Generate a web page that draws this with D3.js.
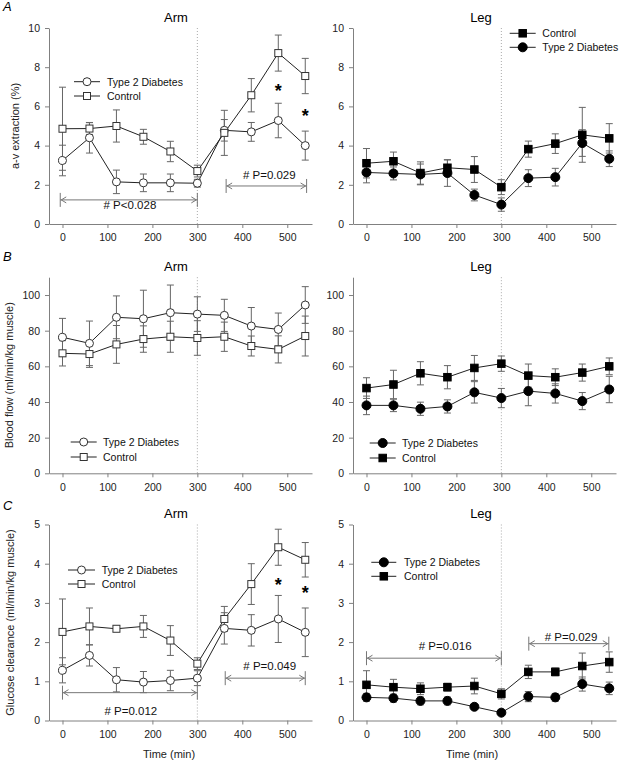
<!DOCTYPE html>
<html><head><meta charset="utf-8">
<script src="https://cdn.jsdelivr.net/npm/d3@7"></script>
<style>
body{margin:0;background:#fff}
svg{display:block}
text{font-family:"Liberation Sans",Arial,Helvetica,sans-serif}
</style>
</head><body>
<svg id="chart" width="626" height="764"></svg>
<script>
// ---------- data ----------
const times = [0,60,120,180,240,300,360,420,480,540];
const xTicks = [0,100,200,300,400,500];
const avTicks = [0,2,4,6,8,10];
const bfTicks = [0,20,40,60,80,100];
const gcTicks = [0,1,2,3,4,5];

const avArmT2D    = [3.24,4.40,2.15,2.10,2.10,2.08,4.78,4.70,5.28,4.00];
const avArmT2DErr = [0.78,0.78,0.60,0.45,0.45,0.20,0.55,0.48,0.88,0.74];
const avArmCtrl    = [4.86,4.87,5.00,4.45,3.70,2.70,4.65,6.57,8.72,7.55];
const avArmCtrlErr = [2.12,0.30,0.82,0.38,0.52,0.30,1.15,0.85,0.92,0.90];

const avLegCtrl    = [3.10,3.20,2.60,2.87,2.78,1.88,3.82,4.10,4.55,4.37];
const avLegCtrlErr = [0.75,0.47,0.57,0.40,0.66,0.38,0.41,0.50,1.40,0.75];
const avLegT2D    = [2.63,2.58,2.53,2.60,1.48,0.99,2.34,2.39,4.13,3.33];
const avLegT2DErr = [0.53,0.33,0.53,0.68,0.30,0.34,0.43,0.45,0.68,0.40];

const bfArmT2D    = [76.3,72.9,87.5,86.7,90.1,89.3,88.6,82.6,80.7,94.4];
const bfArmT2DErr = [10.6,12.5,12.0,16.0,15.5,9.7,9.0,10.4,9.2,10.3];
const bfArmCtrl    = [67.3,66.9,72.3,75.3,76.6,75.9,76.6,71.4,69.5,77.0];
const bfArmCtrlErr = [7.1,7.5,10.6,7.4,8.7,9.7,8.2,5.6,7.6,11.2];

const bfLegCtrl    = [47.8,49.8,56.1,53.9,59.1,61.5,54.8,53.9,56.5,60.0];
const bfLegCtrlErr = [5.8,8.0,6.5,6.5,7.0,4.3,6.5,4.7,4.8,4.7];
const bfLegT2D    = [38.1,38.1,36.2,37.5,45.4,42.2,46.1,44.8,40.5,47.0];
const bfLegT2DErr = [5.2,3.5,3.7,3.7,6.0,5.4,8.2,5.4,4.8,7.4];

const gcArmCtrl    = [2.26,2.40,2.34,2.40,2.04,1.45,2.59,3.48,4.42,4.10];
const gcArmCtrlErr = [0.84,0.47,0.07,0.28,0.38,0.15,0.32,0.52,0.46,0.44];
const gcArmT2D    = [1.28,1.66,1.04,0.98,1.02,1.08,2.35,2.30,2.59,2.25];
const gcArmT2DErr = [0.32,0.27,0.31,0.27,0.26,0.19,0.40,0.40,0.60,0.62];

const gcLegCtrl    = [0.91,0.85,0.81,0.85,0.88,0.68,1.24,1.24,1.39,1.49];
const gcLegCtrlErr = [0.36,0.20,0.15,0.10,0.20,0.13,0.17,0.10,0.33,0.26];
const gcLegT2D    = [0.59,0.57,0.50,0.50,0.35,0.20,0.61,0.59,0.93,0.82];
const gcLegT2DErr = [0.10,0.10,0.10,0.10,0.03,0.03,0.13,0.10,0.18,0.16];

const seriesNames = ["Type 2 Diabetes","Control"];

// ---------- layout ----------
const svg = d3.select("#chart");
const AXC = "#808080";

const panels = [
  {x0:49, yb:224, yt:28, ymax:10, ticks:avTicks, title:"Arm", tx:176, ty:21.5, letter:"A", ly:11,
   ylabel:"a-v extraction (%)", ylx:15, open:true,
   series:[{v:avArmT2D,e:avArmT2DErr,sym:"circle"},{v:avArmCtrl,e:avArmCtrlErr,sym:"square"}],
   legend:{l0:74,l1:100,tx:107,rows:[[0,81.7],[1,96]]},
   arrows:[{t0:-5,t1:300,v:1.23,label:"# P<0.028",lt:150,lv:0.97},{t0:364,t1:543,v:1.94,label:"# P=0.029",lt:460,lv:2.5}],
   stars:[[480,7.0],[540,5.7]]},
  {x0:353, yb:224, yt:28, ymax:10, ticks:avTicks, title:"Leg", tx:481, ty:21.5,
   open:false,
   series:[{v:avLegT2D,e:avLegT2DErr,sym:"circle"},{v:avLegCtrl,e:avLegCtrlErr,sym:"square"}],
   legend:{l0:509.7,l1:535.7,tx:542.3,rows:[[1,33.3],[0,47.3]]},
   arrows:[], stars:[]},
  {x0:49, yb:473.3, yt:277.2, ymax:110, ticks:bfTicks, title:"Arm", tx:176, ty:271, letter:"B", ly:261,
   ylabel:"Blood flow (ml/min/kg muscle)", ylx:9, open:true,
   series:[{v:bfArmT2D,e:bfArmT2DErr,sym:"circle"},{v:bfArmCtrl,e:bfArmCtrlErr,sym:"square"}],
   legend:{l0:70.7,l1:96.7,tx:103,rows:[[0,442],[1,457]]},
   arrows:[], stars:[]},
  {x0:353, yb:473.3, yt:277.2, ymax:110, ticks:bfTicks, title:"Leg", tx:481, ty:271,
   open:false,
   series:[{v:bfLegT2D,e:bfLegT2DErr,sym:"circle"},{v:bfLegCtrl,e:bfLegCtrlErr,sym:"square"}],
   legend:{l0:369.7,l1:395.7,tx:402,rows:[[0,443],[1,458]]},
   arrows:[], stars:[]},
  {x0:49, yb:720.5, yt:524.5, ymax:5, ticks:gcTicks, title:"Arm", tx:176, ty:518, letter:"C", ly:510,
   ylabel:"Glucose clearance (ml/min/kg muscle)", ylx:10, open:true, xlabel:"Time (min)", xlx:169,
   series:[{v:gcArmT2D,e:gcArmT2DErr,sym:"circle"},{v:gcArmCtrl,e:gcArmCtrlErr,sym:"square"}],
   legend:{l0:68,l1:95,tx:101.7,rows:[[0,570],[1,584]]},
   arrows:[{t0:0,t1:300,v:0.71,label:"# P=0.012",lt:152,lv:0.255},{t0:362,t1:540,v:1.08,label:"# P=0.049",lt:461,lv:1.38}],
   stars:[[480,3.57],[540,3.35]]},
  {x0:353, yb:720.5, yt:524.5, ymax:5, ticks:gcTicks, title:"Leg", tx:481, ty:518,
   open:false, xlabel:"Time (min)", xlx:472,
   series:[{v:gcLegT2D,e:gcLegT2DErr,sym:"circle"},{v:gcLegCtrl,e:gcLegCtrlErr,sym:"square"}],
   legend:{l0:371.3,l1:396.3,tx:404,rows:[[0,562.3],[1,576.3]]},
   arrows:[{t0:0,t1:300,v:1.59,label:"# P=0.016",lt:175,lv:1.89},{t0:361,t1:539,v:1.96,label:"# P=0.029",lt:455,lv:2.14}],
   stars:[]}
];

function drawSymbol(g, sym, cx, cy, open){
  if(sym==="circle"){
    g.append("circle").attr("cx",cx).attr("cy",cy).attr("r", open?4:4.5)
      .attr("fill", open?"#fff":"#000").attr("stroke", open?"#333":"#000").attr("stroke-width",1);
  } else {
    const s = open?7:7.5;
    g.append("rect").attr("x",cx-s/2).attr("y",cy-s/2).attr("width",s).attr("height",s)
      .attr("fill", open?"#fff":"#000").attr("stroke", open?"#333":"#000").attr("stroke-width",1);
  }
}

panels.forEach(p=>{
  const g = svg.append("g");
  const x = d3.scaleLinear().domain([-30,555]).range([p.x0, p.x0+263]);
  const y = d3.scaleLinear().domain([0,p.ymax]).range([p.yb, p.yt]);

  // axes
  const ya = g.append("g").attr("transform",`translate(${p.x0},0)`)
    .call(d3.axisLeft(y).tickValues(p.ticks).tickFormat(d3.format("d")).tickSize(4).tickSizeOuter(0).tickPadding(5));
  const xa = g.append("g").attr("transform",`translate(0,${p.yb})`)
    .call(d3.axisBottom(x).tickValues(xTicks).tickFormat(d3.format("d")).tickSize(4).tickSizeOuter(0).tickPadding(6));
  [ya,xa].forEach(a=>{
    a.select(".domain").attr("stroke",AXC).attr("stroke-width",1);
    a.selectAll(".tick line").attr("stroke",AXC);
    a.selectAll(".tick text").attr("fill","#222").style("font-size","10.5px")
      .style("font-family",'"Liberation Sans",Arial,sans-serif');
  });

  // dotted line at 300
  g.append("line").attr("x1",x(300)).attr("x2",x(300)).attr("y1",y(p.ymax)).attr("y2",p.yb)
    .attr("stroke","#aaa").attr("stroke-width",1).attr("stroke-dasharray","1,2");

  // title
  g.append("text").attr("x",p.tx).attr("y",p.ty).attr("text-anchor","middle")
    .style("font-size","13px").attr("fill","#000").text(p.title);
  if(p.letter){
    g.append("text").attr("x",3).attr("y",p.ly).style("font-size","13px")
      .style("font-style","italic").attr("fill","#000").text(p.letter);
  }
  if(p.ylabel){
    const cy = (p.yb+p.yt)/2;
    g.append("text").attr("transform",`translate(${p.ylx},${cy}) rotate(-90)`)
      .attr("text-anchor","middle").attr("dominant-baseline","central")
      .style("font-size","11px").attr("fill","#222").text(p.ylabel);
  }
  if(p.xlabel){
    g.append("text").attr("x",p.xlx).attr("y",758).attr("text-anchor","middle")
      .style("font-size","11px").attr("fill","#222").text(p.xlabel);
  }

  // series
  const line = d3.line().x((d,i)=>x(times[i])).y(d=>y(d));
  p.series.forEach(s=>{
    g.append("path").datum(s.v).attr("d",line).attr("fill","none")
      .attr("stroke","#222").attr("stroke-width",1);
  });
  p.series.forEach(s=>{
    const eg = g.append("g").attr("stroke","#666").attr("stroke-width",1);
    s.v.forEach((v,i)=>{
      const cx = x(times[i]), hi = y(v+s.e[i]), lo = y(v-s.e[i]);
      eg.append("line").attr("x1",cx).attr("x2",cx).attr("y1",hi).attr("y2",lo);
      eg.append("line").attr("x1",cx-3.5).attr("x2",cx+3.5).attr("y1",hi).attr("y2",hi);
      eg.append("line").attr("x1",cx-3.5).attr("x2",cx+3.5).attr("y1",lo).attr("y2",lo);
    });
  });
  p.series.forEach(s=>{
    const sg = g.append("g");
    s.v.forEach((v,i)=>drawSymbol(sg, s.sym, x(times[i]), y(v), p.open));
  });

  // legend
  p.legend.rows.forEach(([si,ly])=>{
    const s = p.series[si];
    g.append("line").attr("x1",p.legend.l0).attr("x2",p.legend.l1).attr("y1",ly).attr("y2",ly)
      .attr("stroke","#222").attr("stroke-width",1);
    drawSymbol(g, s.sym, (p.legend.l0+p.legend.l1)/2, ly, p.open);
    g.append("text").attr("x",p.legend.tx).attr("y",ly).attr("dominant-baseline","central")
      .style("font-size","10.5px").attr("fill","#111").text(seriesNames[si]);
  });

  // arrows
  p.arrows.forEach(a=>{
    const ag = g.append("g").attr("stroke","#777").attr("stroke-width",1).attr("fill","none");
    const x0 = x(a.t0), x1 = x(a.t1), yy = y(a.v);
    ag.append("line").attr("x1",x0).attr("x2",x1).attr("y1",yy).attr("y2",yy);
    ag.append("line").attr("x1",x0).attr("x2",x0).attr("y1",yy-7).attr("y2",yy+7);
    ag.append("line").attr("x1",x1).attr("x2",x1).attr("y1",yy-7).attr("y2",yy+7);
    ag.append("path").attr("d",`M${x0+6},${yy-3}L${x0+1},${yy}L${x0+6},${yy+3}`);
    ag.append("path").attr("d",`M${x1-6},${yy-3}L${x1-1},${yy}L${x1-6},${yy+3}`);
    g.append("text").attr("x",x(a.lt)).attr("y",y(a.lv)).attr("text-anchor","middle")
      .attr("dominant-baseline","central").style("font-size","11.5px").attr("fill","#111").text(a.label);
  });

  // stars
  p.stars.forEach(([t,v])=>{
    g.append("text").attr("x",x(t)).attr("y",y(v)+10).attr("text-anchor","middle")
      .style("font-size","18px").style("font-weight","bold").attr("fill","#000").text("*");
  });
});
</script>
</body></html>
